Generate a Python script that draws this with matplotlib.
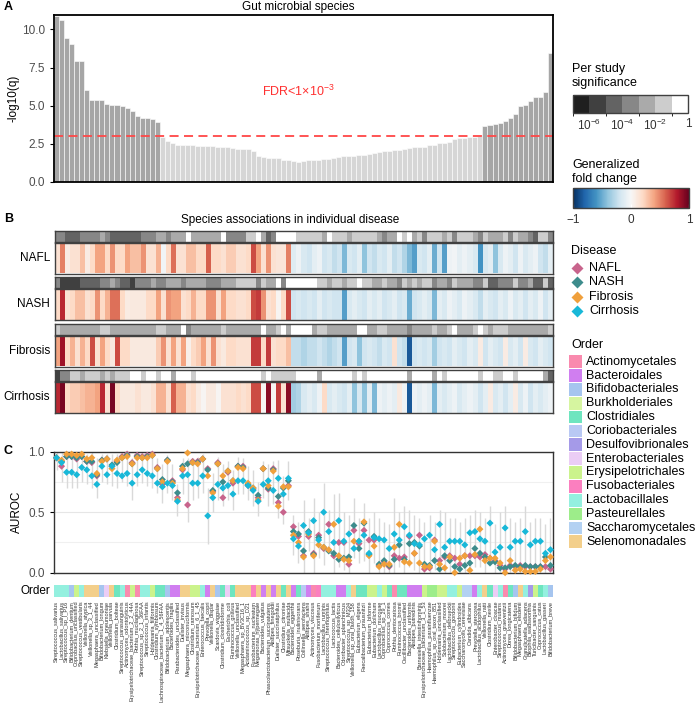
import numpy as np
import matplotlib
matplotlib.use("Agg")
import matplotlib.pyplot as plt
from matplotlib.colors import ListedColormap, BoundaryNorm, Normalize
from matplotlib.patches import Rectangle
import matplotlib.colorbar as mcolorbar

plt.rcParams['font.family'] = ['Liberation Sans', 'DejaVu Sans']
plt.rcParams['mathtext.fontset'] = 'custom'
plt.rcParams['mathtext.rm'] = 'Liberation Sans'
plt.rcParams['mathtext.it'] = 'Liberation Sans'

# ----------------------------------------------------------------------
#  Data
# ----------------------------------------------------------------------
diseases = ["NAFL", "NASH", "Fibrosis", "Cirrhosis"]
disease_colors = ["#c8648c", "#3d8c8c", "#f0a03c", "#18b8d8"]

species = [
    "Streptococcus_salivarius", "Lactobacillus_salivarius", "Streptococcus_sp_I_P16",
    "Bifidobacterium_dentium", "Coprobacillus_unclassified", "Streptococcus_vestibularis",
    "Veillonella_atypica", "Veillonella_sp_3_1_44", "Megasphaera_unclassified",
    "Bifidobacterium_longum", "Klebsiella_pneumoniae", "Veillonella_parvula",
    "Clostridium_bolteae", "Streptococcus_parasanguinis", "Actinomyces_odontolyticus",
    "Erysipelotrichaceae_bacterium_2_2_44A", "Rothia_mucilaginosa", "Streptococcus_sp_2_1_36FAA",
    "Streptococcus_infantis", "Holdemania_filiformis", "Clostridium_symbiosum",
    "Lachnospiraceae_bacterium_1_4_56FAA", "Bifidobacterium_adolescentis", "Bacteroides_fragilis",
    "Parabacteroides_unclassified", "Dialister_invisus", "Megasphaera_micronuciformis",
    "Clostridium_ramosum", "Erysipelotrichaceae_bacterium_6_1_45", "Enterococcus_faecalis",
    "Prevotella_copri", "Veillonella_dispar", "Scardovia_wiggsiae",
    "Clostridium_clostridioforme", "Escherichia_coli", "Ruminococcus_gnavus",
    "Veillonella_unclassified", "Megasphaera_sp_BV3C16_1", "Acidaminococcus_sp_D21",
    "Fusobacterium_nucleatum", "Megamonas_hypermegale", "Bacteroides_vulgatus",
    "Phascolarctobacterium_succinatutens", "Alistipes_finegoldii", "Dialister_succinatiphilus",
    "Clostridium_citroniae", "Mitsuokella_multacida", "Bacteroides_eggerthii",
    "Roseburia_inulinivorans", "Collinsella_aerofaciens", "Alistipes_shahii",
    "Actinomyces_viscosus", "Fusobacterium_mortiferum", "Lactobacillus_ruminis",
    "Streptococcus_thermophilus", "Lactococcus_lactis", "Bacteroides_cellulosilyticus",
    "Odoribacter_splanchnicus", "Streptococcus_sp_M334", "Veillonella_sp_oral_taxon_158",
    "Eubacterium_eligens", "Faecalibacterium_prausnitzii", "Eubacterium_biforme",
    "Eubacterium_dolichum", "Lactobacillus_mucosae", "Coprobacillus_sp_29_1",
    "Coprococcus_comes", "Rothia_dentocariosa", "Ruminococcus_bromii",
    "Oscillibacter_unclassified", "Bacteroides_uniformis", "Alistipes_putredinis",
    "Barnesiella_intestinihominis", "Erysipelotrichaceae_bacterium_3_1_53", "Haemophilus_parainfluenzae",
    "Haemophilus_sp_oral_taxon_851", "Holdemania_unclassified", "Solobacterium_moorei",
    "Lactobacillus_delbrueckii", "Streptococcus_gordonii", "Eubacterium_cylindroides",
    "Saccharomyces_cerevisiae", "Candida_albicans", "Prevotella_stercorea",
    "Lactobacillus_acidophilus", "Veillonella_ratti", "Clostridium_nexile",
    "Enterobacter_cloacae", "Streptococcus_mutans", "Actinomyces_graevenitzii",
    "Dorea_longicatena", "Bifidobacterium_bifidum", "Megasphaera_elsdenii",
    "Granulicatella_adiacens", "Bilophila_wadsworthia", "Turicibacter_sanguinis",
    "Coprococcus_catus", "Lactobacillus_gasseri", "Bifidobacterium_breve",
]

order_names = ["Actinomycetales", "Bacteroidales", "Bifidobacteriales", "Burkholderiales",
               "Clostridiales", "Coriobacteriales", "Desulfovibrionales", "Enterobacteriales",
               "Erysipelotrichales", "Fusobacteriales", "Lactobacillales", "Pasteurellales",
               "Saccharomycetales", "Selenomonadales"]
order_colors = ["#f98aae", "#d07ef0", "#a6c5ef", "#d6f5a0", "#6ee5bf", "#b9c9f4", "#a59ae8",
                "#ebcdf5", "#cbf38c", "#fb7fbf", "#94f0df", "#9ded8a", "#b3d1f2", "#f3cf8b"]

species_order = [
    "Lactobacillales", "Lactobacillales", "Lactobacillales", "Bifidobacteriales", "Erysipelotrichales",
    "Lactobacillales", "Selenomonadales", "Selenomonadales", "Selenomonadales", "Bifidobacteriales",
    "Enterobacteriales", "Selenomonadales", "Clostridiales", "Lactobacillales", "Actinomycetales",
    "Erysipelotrichales", "Actinomycetales", "Lactobacillales", "Lactobacillales", "Erysipelotrichales",
    "Clostridiales", "Clostridiales", "Bifidobacteriales", "Bacteroidales", "Bacteroidales",
    "Selenomonadales", "Selenomonadales", "Erysipelotrichales", "Erysipelotrichales", "Lactobacillales",
    "Bacteroidales", "Selenomonadales", "Bifidobacteriales", "Clostridiales", "Enterobacteriales",
    "Clostridiales", "Selenomonadales", "Selenomonadales", "Selenomonadales", "Fusobacteriales",
    "Selenomonadales", "Bacteroidales", "Selenomonadales", "Bacteroidales", "Selenomonadales",
    "Clostridiales", "Selenomonadales", "Bacteroidales", "Clostridiales", "Coriobacteriales",
    "Bacteroidales", "Actinomycetales", "Fusobacteriales", "Lactobacillales", "Lactobacillales",
    "Lactobacillales", "Bacteroidales", "Bacteroidales", "Lactobacillales", "Selenomonadales",
    "Clostridiales", "Clostridiales", "Erysipelotrichales", "Erysipelotrichales", "Lactobacillales",
    "Erysipelotrichales", "Clostridiales", "Actinomycetales", "Clostridiales", "Clostridiales",
    "Bacteroidales", "Bacteroidales", "Bacteroidales", "Erysipelotrichales", "Pasteurellales",
    "Pasteurellales", "Erysipelotrichales", "Erysipelotrichales", "Lactobacillales", "Lactobacillales",
    "Erysipelotrichales", "Saccharomycetales", "Saccharomycetales", "Bacteroidales", "Lactobacillales",
    "Selenomonadales", "Clostridiales", "Enterobacteriales", "Lactobacillales", "Actinomycetales",
    "Clostridiales", "Bifidobacteriales", "Selenomonadales", "Lactobacillales", "Desulfovibrionales",
    "Erysipelotrichales", "Clostridiales", "Lactobacillales", "Bifidobacteriales",
]

# Panel A: -log10(q) of the meta-analysis
neglog_q = [
    10.87, 10.65, 9.47, 9.06, 7.9, 7.9, 6.0, 5.38, 5.37, 5.37,
    5.08, 5.07, 5.06, 5.0, 4.81, 4.62, 4.31, 4.18, 4.18, 4.14, 3.9,
    2.91, 2.70, 2.53, 2.42, 2.41, 2.40, 2.40, 2.36, 2.35, 2.34,
    2.33, 2.31, 2.28, 2.26, 2.21, 2.18, 2.17, 2.14, 2.00, 1.68,
    1.62, 1.57, 1.55, 1.54, 1.42, 1.40, 1.33, 1.32, 1.33, 1.43,
    1.44, 1.45, 1.46, 1.52, 1.58, 1.64, 1.66, 1.69, 1.72, 1.74,
    1.75, 1.80, 1.86, 1.97, 2.02, 2.04, 2.06, 2.08, 2.12, 2.20,
    2.25, 2.27, 2.29, 2.38, 2.40, 2.52, 2.55, 2.62, 2.78, 2.85,
    2.88, 2.92, 2.93, 2.97,
    3.65, 3.72, 3.79, 3.83, 3.96, 4.16, 4.44, 4.99, 5.01, 5.32,
    5.54, 5.54, 5.87, 8.47,
]
fdr_cut = 3.0

# Panel B: generalized fold change per disease
gfc_nafl = [
    0.15, 0.5, 0.08, 0.15, 0.15, 0.3, 0.08, 0.2, 0.4, 0.4,
    0.2, 0.45, 0.2, 0.2, 0.4, 0.3, 0.3, 0.45, 0.15, 0.15,
    0.35, -0.03, 0.2, 0.55, 0.15, 0.15, 0.3, 0.3, 0.2, 0.2,
    0.6, 0.2, 0.2, 0.15, 0.25, 0.25, 0.15, 0.15, 0.2, 0.65,
    0.4, 0.15, 0.45, 0.15, 0.12, 0.12, 0.5,
    -0.12, -0.05, -0.15, -0.2, -0.1, -0.05, -0.2, -0.15, -0.25, -0.2,
    -0.45, -0.15, -0.2, -0.1, -0.4, -0.2, -0.25, -0.15, -0.2, -0.1,
    -0.25, -0.2, -0.3, -0.45, -0.55, -0.15, -0.2, -0.1, -0.5, -0.2,
    -0.55, -0.05, -0.03, -0.1, -0.05, -0.1, -0.15, -0.6, -0.15, -0.1,
    -0.4, -0.15, -0.05, -0.1, -0.2, -0.05, -0.15, -0.1, -0.05, -0.2,
    -0.25, -0.1,
]
gfc_nash = [
    0.2, 0.75, 0.15, 0.2, 0.3, 0.3, 0.15, 0.2, 0.45, 0.2,
    0.35, 0.55, 0.55, 0.2, 0.08, 0.1, 0.1, 0.1, 0.2, 0.2,
    0.4, 0.15, 0.45, 0.4, 0.4, 0.15, 0.2, 0.35, 0.2, 0.2,
    0.45, 0.45, 0.15, 0.4, 0.2, 0.2, 0.15, 0.15, 0.2, 0.65,
    0.7, 0.45, 0.15, 0.2, 0.02, 0.2, 0.65,
    -0.2, -0.15, -0.2, -0.15, -0.2, -0.1, -0.2, -0.15, -0.2, -0.2,
    -0.55, -0.15, -0.1, -0.15, -0.2, -0.1, -0.15, -0.1, -0.2, -0.15,
    -0.1, -0.2, -0.15, -0.5, -0.2, -0.15, -0.1, -0.15, -0.45, -0.1,
    -0.15, -0.05, -0.1, -0.15, -0.05, -0.1, -0.15, -0.25, -0.1, -0.15,
    -0.2, -0.1, -0.15, -0.05, -0.15, -0.1, -0.2, -0.1, -0.15, -0.05,
    -0.2, -0.1,
]
gfc_fibrosis = [
    0.4, 0.85, 0.2, 0.35, 0.15, 0.35, 0.2, 0.65, 0.15, 0.4,
    0.2, 0.1, 0.65, 0.2, 0.2, 0.1, 0.1, 0.1, 0.1, 0.1,
    0.25, 0.45, 0.15, 0.4, 0.15, 0.4, 0.05, 0.2, 0.25, 0.4,
    0.15, 0.45, 0.15, 0.1, 0.2, 0.2, 0.15, 0.15, 0.15, 0.7,
    0.7, 0.2, 0.7, 0.15, 0.2, 0.2, 0.3,
    -0.25, -0.25, -0.3, -0.25, -0.25, -0.2, -0.25, -0.3, -0.25, -0.2,
    -0.55, -0.2, -0.15, -0.4, -0.2, -0.15, -0.2, -0.25, -0.15, -0.2,
    0.15, -0.2, -0.25, -0.85, -0.2, -0.15, -0.2, -0.15, -0.35, -0.2,
    -0.15, -0.2, -0.1, -0.15, -0.2, -0.1, -0.15, 0.08, -0.2, -0.1,
    -0.15, -0.2, 0.08, -0.15, -0.1, -0.2, 0.08, -0.15, -0.2, -0.1,
    -0.15, -0.2,
]
gfc_cirrhosis = [
    0.75, 0.95, 0.2, 0.25, 0.25, 0.3, 0.35, 0.35, 0.4, 0.75,
    0.15, 0.95, 0.2, 0.1, 0.1, 0.1, 0.15, 0.1, 0.1, 0.15,
    0.35, 0.35, 0.15, 0.6, 0.35, 0.35, 0.15, 0.2, 0.08, 0.02,
    0.1, 0.1, 0.02, 0.15, 0.15, 0.15, 0.2, 0.15, 0.2, 0.65,
    0.65, 0.02, 0.9, 0.02, 0.7, 0.15, 0.9,
    -0.35, -0.3, -0.15, -0.1, -0.15, -0.05, 0.2, -0.15, -0.1, -0.15,
    -0.2, -0.1, -0.4, -0.15, -0.4, -0.1, -0.45, -0.05, -0.1, -0.05,
    -0.1, 0.1, -0.05, -0.85, -0.05, -0.1, -0.05, -0.1, -0.45, -0.1,
    -0.15, -0.1, -0.05, -0.15, -0.1, -0.05, -0.1, -0.2, -0.1, 0.08,
    -0.15, -0.1, -0.2, -0.1, 0.08, -0.15, -0.05, -0.2, -0.1, -0.15,
    -0.1, -0.05,
]

# Panel B: per study significance, log10(p) bin (-7 .. -1)
sig_nafl = [
    -4, -4, -5, -5, -5, -4, -4, -4, -4, -3,
    -4, -5, -5, -5, -5, -5, -5, -4, -4, -4,
    -3, -3, -4, -3, -3, -3, -1, -3, -3, -3,
    -3, -3, -3, -1, -4, -4, -4, -4, -2, -2,
    -1, -3, -5, -4, -1, -1, -1, -1,
    -2, -2, -2, -2, -2, -3, -1, -2, -2, -2,
    -3, -2, -2, -2, -2, -2, -3, -4, -3, -3,
    -1, -2, -1, -3, -2, -4, -2, -2, -2, -3,
    -2, -4, -2, -2, -2,
    -3, -4, -2, -3, -3, -3, -2, -4, -2, -3,
    -3, -4, -5, -2, -2, -4,
]
sig_nash = [
    -4, -6, -6, -6, -6, -5, -5, -5, -5, -4,
    -4, -3, -4, -5, -5, -6, -4, -4, -4, -3,
    -4, -4, -3, -3, -3, -4, -3, -3, -3, -3,
    -4, -4, -4, -3, -3, -3, -2, -2, -2, -2,
    -4, -2, -3, -3, -1, -4, -1, -1, -1, -1,
    -1, -1, -2, -2, -3, -2, -2, -3, -2, -2,
    -1, -2, -2, -3, -3, -2, -3, -3, -4, -2,
    -3, -2, -3, -2, -2, -4, -3, -3, -4, -2,
    -3, -3, -3,
    -4, -4, -2, -5, -5, -4, -4, -4, -2, -4,
    -4, -3, -5, -5, -2, -5,
]
sig_fibrosis = [
    -2, -3, -3, -3, -3, -3, -3, -3, -3, -2,
    -2, -3, -3, -3, -3, -3, -3, -3, -3, -3,
    -2, -2, -3, -3, -3, -1, -4, -3, -3, -3,
    -3, -3, -3, -2, -3, -3, -3, -3, -3, -3,
    -3, -1, -3, -3, -2, -1, -3, -1, -1, -1,
    -1, -3, -2, -2, -3, -3, -3, -3, -3, -3,
    -1, -1, -3, -3, -2, -2, -3, -3, -3, -3,
    -4, -3, -3, -3, -3, -2, -3, -3, -2, -1,
    -3, -3, -3,
    -2, -1, -2, -3, -2, -2, -2, -3, -3, -3,
    -3, -3, -3, -3, -3, -2,
]
sig_cirrhosis = [
    -6, -4, -4, -2, -2, -3, -2, -2, -2, -3,
    -2, -3, -2, -2, -2, -1, -1, -2, -1, -1,
    -2, -1, -1, -3, -1, -1, -1, -2, -1, -1,
    -1, -1, -1, -1, -1, -1, -1, -1, -1, -1,
    -1, -2, -1, -2, -2, -2, -2, -2, -1, -1,
    -1, -1, -3, -1, -1, -1, -1, -1, -1, -2,
    -1, -2, -1, -1, -1, -1, -1, -1, -1, -1,
    -3, -1, -1, -1, -1, -3, -1, -2, -1, -1,
    -1, -1, -1,
    -1, -2, -1, -1, -2, -2, -1, -1, -2, -1,
    -1, -1, -1, -1, -3, -5,
]

# Panel C: AUROC per disease
auroc_nafl = [
    0.95, 0.88, 0.96, 0.96, 0.94, 0.96, 0.92, 0.91, 0.80, 0.93,
    0.94, 0.88, 0.92, 0.96, 0.98, 0.91, 0.97, 0.96, 0.97, 0.98,
    0.87, 0.73, 0.93, 0.76, 0.62, 0.85, 0.56, 0.92, 0.92, 0.94,
    0.86, 0.67, 0.91, 0.62, 0.83, 0.74, 0.88, 0.88, 0.72, 0.69,
    0.62, 0.86, 0.69, 0.86, 0.58, 0.50, 0.72,
    0.38, 0.30, 0.14, 0.30, 0.16, 0.31, 0.20, 0.40, 0.14, 0.25,
    0.25, 0.07, 0.35, 0.24, 0.35, 0.27, 0.27, 0.06, 0.09, 0.05,
    0.14, 0.12, 0.13, 0.30, 0.16, 0.31, 0.03, 0.04, 0.27, 0.10,
    0.13, 0.14, 0.12, 0.07, 0.14, 0.14, 0.14, 0.13, 0.15, 0.12,
    0.10, 0.06, 0.03, 0.06, 0.05, 0.06, 0.05, 0.05, 0.05, 0.05,
    0.05, 0.03,
]
auroc_nash = [
    0.95, 0.92, 0.96, 0.96, 0.95, 0.96, 0.92, 0.92, 0.81, 0.93,
    0.94, 0.89, 0.91, 0.95, 0.97, 0.90, 0.96, 0.95, 0.96, 0.97,
    0.86, 0.77, 0.93, 0.75, 0.66, 0.88, 0.90, 0.91, 0.91, 0.94,
    0.85, 0.68, 0.90, 0.75, 0.84, 0.76, 0.88, 0.87, 0.73, 0.70,
    0.64, 0.86, 0.70, 0.85, 0.63, 0.70, 0.76,
    0.34, 0.32, 0.18, 0.34, 0.15, 0.29, 0.21, 0.18, 0.16, 0.11,
    0.12, 0.13, 0.39, 0.20, 0.41, 0.15, 0.30, 0.07, 0.10, 0.06,
    0.11, 0.23, 0.11, 0.24, 0.25, 0.22, 0.07, 0.06, 0.10, 0.03,
    0.14, 0.10, 0.05, 0.03, 0.06, 0.08, 0.20, 0.16, 0.13, 0.08,
    0.09, 0.04, 0.04, 0.05, 0.06, 0.05, 0.06, 0.05, 0.05, 0.05,
    0.13, 0.06,
]
auroc_fibrosis = [
    0.95, 0.93, 0.98, 0.98, 0.97, 0.98, 0.94, 0.95, 0.82, 0.92,
    0.94, 0.86, 0.93, 0.95, 0.96, 0.90, 0.95, 0.95, 0.95, 0.97,
    0.86, 0.75, 0.92, 0.74, 0.60, 0.86, 0.99, 0.91, 0.90, 0.94,
    0.80, 0.66, 0.90, 0.80, 0.84, 0.76, 0.87, 0.86, 0.74, 0.70,
    0.60, 0.86, 0.72, 0.84, 0.55, 0.71, 0.71,
    0.31, 0.25, 0.13, 0.32, 0.14, 0.23, 0.21, 0.19, 0.40, 0.14,
    0.11, 0.10, 0.26, 0.26, 0.42, 0.14, 0.22, 0.05, 0.07, 0.07,
    0.21, 0.40, 0.09, 0.08, 0.16, 0.08, 0.05, 0.05, 0.26, 0.07,
    0.04, 0.13, 0.00, 0.12, 0.14, 0.02, 0.15, 0.36, 0.10, 0.12,
    0.12, 0.08, 0.00, 0.10, 0.02, 0.03, 0.01, 0.01, 0.01, 0.03,
    0.10, 0.13,
]
auroc_cirrhosis = [
    0.95, 0.91, 0.83, 0.83, 0.81, 0.87, 0.85, 0.80, 0.73, 0.88,
    0.81, 0.88, 0.82, 0.80, 0.82, 0.74, 0.81, 0.85, 0.82, 0.80,
    0.74, 0.71, 0.74, 0.72, 0.59, 0.80, 0.81, 0.74, 0.74, 0.80,
    0.47, 0.62, 0.73, 0.70, 0.72, 0.65, 0.76, 0.76, 0.72, 0.68,
    0.59, 0.73, 0.76, 0.68, 0.78, 0.65, 0.78,
    0.28, 0.22, 0.39, 0.33, 0.43, 0.27, 0.50, 0.34, 0.25, 0.43,
    0.26, 0.32, 0.20, 0.26, 0.31, 0.16, 0.29, 0.28, 0.27, 0.20,
    0.32, 0.27, 0.38, 0.31, 0.24, 0.23, 0.28, 0.31, 0.19, 0.40,
    0.21, 0.26, 0.26, 0.26, 0.23, 0.33, 0.34, 0.28, 0.26, 0.41,
    0.17, 0.21, 0.37, 0.21, 0.26, 0.26, 0.34, 0.23, 0.26, 0.26,
    0.16, 0.19,
]
ci_low = [
    0.85, 0.75, 0.70, 0.70, 0.70, 0.75, 0.73, 0.70, 0.62, 0.75,
    0.73, 0.72, 0.70, 0.75, 0.72, 0.60, 0.72, 0.74, 0.72, 0.70,
    0.66, 0.58, 0.66, 0.60, 0.47, 0.65, 0.42, 0.60, 0.62, 0.66,
    0.24, 0.50, 0.60, 0.55, 0.60, 0.52, 0.65, 0.65, 0.60, 0.55,
    0.47, 0.62, 0.55, 0.57, 0.45, 0.40, 0.60,
    0.15, 0.08, 0.00, 0.18, 0.00, 0.12, 0.06, 0.18, 0.00, 0.05,
    0.02, 0.00, 0.12, 0.08, 0.10, 0.00, 0.08, 0.00, 0.00, 0.00,
    0.00, 0.05, 0.00, 0.05, 0.02, 0.00, 0.00, 0.00, 0.02, 0.00,
    0.00, 0.00, 0.00, 0.00, 0.00, 0.00, 0.05, 0.05, 0.00, 0.08,
    0.00, 0.00, 0.05, 0.00, 0.00, 0.00, 0.05, 0.00, 0.00, 0.00,
    0.00, 0.00,
]
ci_high = [
    1.0, 1.0, 1.0, 1.0, 1.0, 1.0, 0.98, 1.0, 0.95, 0.98,
    0.98, 0.98, 0.98, 1.0, 1.0, 0.95, 1.0, 1.0, 1.0, 1.0,
    0.95, 0.90, 0.97, 0.90, 0.73, 0.95, 0.95, 0.95, 0.96, 0.98,
    0.70, 0.82, 0.96, 0.90, 0.92, 0.85, 0.96, 0.95, 0.88, 0.85,
    0.75, 0.92, 0.90, 0.92, 0.93, 0.80, 0.92,
    0.48, 0.42, 0.60, 0.45, 0.62, 0.50, 0.74, 0.52, 0.65, 0.66,
    0.50, 0.48, 0.62, 0.45, 0.58, 0.45, 0.50, 0.45, 0.42, 0.40,
    0.62, 0.50, 0.55, 0.52, 0.48, 0.45, 0.42, 0.48, 0.42, 0.52,
    0.50, 0.45, 0.45, 0.42, 0.45, 0.48, 0.52, 0.50, 0.45, 0.55,
    0.40, 0.50, 0.55, 0.45, 0.42, 0.45, 0.55, 0.42, 0.45, 0.45,
    0.40, 0.45,
]

gfc_rows = [gfc_nafl, gfc_nash, gfc_fibrosis, gfc_cirrhosis]
sig_rows = [sig_nafl, sig_nash, sig_fibrosis, sig_cirrhosis]
auroc_rows = [auroc_nafl, auroc_nash, auroc_fibrosis, auroc_cirrhosis]

sig_grays = ["#1f1f1f", "#404040", "#636363", "#878787", "#aaaaaa", "#cdcdcd", "#ffffff"]
sig_bounds = [-7, -6, -5, -4, -3, -2, -1, 0]

# ----------------------------------------------------------------------
#  Layout helpers (pixel boxes, origin top-left)
# ----------------------------------------------------------------------
W, H = 698, 707
n = len(species)
x = np.arange(n)
XL, XR = 54, 553


def box(x0, y0, x1, y1):
    return [x0 / W, 1 - y1 / H, (x1 - x0) / W, (y1 - y0) / H]


def ftext(px, py, s, **kw):
    fig.text(px / W, 1 - py / H, s, **kw)


fig = plt.figure(figsize=(W / 100, H / 100), dpi=100)

# ======================================================================
#  A: meta-analysis significance
# ======================================================================
axA = fig.add_axes(box(XL, 15, XR, 181.7))
bar_cols = ["#a6a6a6" if v > fdr_cut else "#d6d6d6" for v in neglog_q]
axA.bar(x, neglog_q, width=1.0, color=bar_cols, edgecolor="white", linewidth=0.4)
axA.axhline(fdr_cut, color="#ff4747", ls=(0, (5, 3)), lw=1.3)
axA.set_xlim(-0.5, n - 0.5)
axA.set_ylim(0, 10.95)
axA.set_xticks([])
axA.set_yticks([0, 2.5, 5, 7.5, 10])
axA.set_yticklabels(["0.0", "2.5", "5.0", "7.5", "10.0"])
axA.tick_params(axis="y", labelsize=8.5, labelcolor="#4d4d4d", length=3, width=0.8)
axA.set_ylabel("-log10(q)", fontsize=8.5, labelpad=2)
for sp in axA.spines.values():
    sp.set_color("black")
    sp.set_linewidth(1.3)
axA.text(0.49, 5.9, r"FDR<1×10$^{-3}$", color="#ff3030", fontsize=9,
         ha="center", va="center", transform=axA.get_yaxis_transform())
ftext(298, 7, "Gut microbial species", fontsize=8.5, ha="center", va="center")
ftext(4, 7, "A", fontsize=9, fontweight="bold", ha="left", va="center")

# ======================================================================
#  B: per-disease heatmaps
# ======================================================================
ftext(4, 219, "B", fontsize=9, fontweight="bold", ha="left", va="center")
ftext(290, 220, "Species associations in individual disease", fontsize=8.5,
      ha="center", va="center")

sig_cmap = ListedColormap(sig_grays)
sig_norm = BoundaryNorm(sig_bounds, sig_cmap.N)
for k, name in enumerate(diseases):
    top = 230.5 + 46.5 * k
    axS = fig.add_axes(box(XL + 1, top, XR, top + 11))
    axS.imshow(np.array([sig_rows[k]]) + 0.5, cmap=sig_cmap, norm=sig_norm,
               aspect="auto", interpolation="nearest", extent=(-0.5, n - 0.5, 0, 1))
    axH = fig.add_axes(box(XL + 1, top + 12, XR, top + 43))
    axH.imshow(np.array([gfc_rows[k]]), cmap="RdBu_r", vmin=-1, vmax=1,
               aspect="auto", interpolation="nearest", extent=(-0.5, n - 0.5, 0, 1))
    for a in (axS, axH):
        a.set_xticks([])
        a.set_yticks([])
        for sp in a.spines.values():
            sp.set_color("#404040")
            sp.set_linewidth(1.0)
    ftext(50, top + 27.5, name, fontsize=8.5, ha="right", va="center")

# ======================================================================
#  C: AUROC
# ======================================================================
ftext(4, 451, "C", fontsize=9, fontweight="bold", ha="left", va="center")
axC = fig.add_axes(box(XL, 451.7, XR, 572.7))
axC.set_xlim(-0.5, n - 0.5)
axC.set_ylim(0, 1)
axC.set_yticks([0, 0.5, 1.0])
axC.set_yticklabels(["0.0", "0.5", "1.0"])
axC.set_yticks([0.25, 0.75], minor=True)
axC.grid(which="major", axis="y", color="#e6e6e6", lw=0.8)
axC.grid(which="minor", axis="y", color="#f0f0f0", lw=0.8)
axC.set_axisbelow(True)
axC.set_xticks([])
axC.tick_params(axis="y", which="major", labelsize=8.5, labelcolor="#4d4d4d", length=3, width=0.8)
axC.tick_params(axis="y", which="minor", length=0)
axC.set_ylabel("AUROC", fontsize=8.5, labelpad=4)
for sp in axC.spines.values():
    sp.set_color("#333333")
    sp.set_linewidth(1.0)
axC.vlines(x, ci_low, ci_high, color="#d9d9d9", lw=1.0, zorder=1)
for k, name in enumerate(diseases):
    axC.scatter(x, auroc_rows[k], marker="D", s=13, color=disease_colors[k],
                edgecolors="none", zorder=3 + k, clip_on=False)

# order colour strip + species labels
axO = fig.add_axes(box(XL, 585, XR, 596.7))
ocol = {o: c for o, c in zip(order_names, order_colors)}
axO.bar(x, np.ones(n), width=1.0, color=[ocol[o] for o in species_order], linewidth=0)
axO.set_xlim(-0.5, n - 0.5)
axO.set_ylim(0, 1)
axO.set_yticks([])
axO.set_xticks(x)
axO.set_xticklabels(species, rotation=90, fontsize=4.0, color="#333333")
axO.tick_params(axis="x", length=0, pad=3)
for sp in axO.spines.values():
    sp.set_visible(False)
ftext(50, 591, "Order", fontsize=8.5, ha="right", va="center")

# ======================================================================
#  Legends
# ======================================================================
ftext(572, 69, "Per study", fontsize=9, ha="left", va="center")
ftext(572, 83, "significance", fontsize=9, ha="left", va="center")
cax1 = fig.add_axes(box(573, 95, 688, 112.5))
cb1 = mcolorbar.ColorbarBase(cax1, cmap=sig_cmap, norm=sig_norm, orientation="horizontal",
                             ticks=[-6, -4, -2, 0])
cb1.set_ticklabels([r"10$^{-6}$", r"10$^{-4}$", r"10$^{-2}$", "1"])
cax1.tick_params(length=0, labelsize=8.5, pad=4, labelcolor="#333333")
cb1.outline.set_edgecolor("#404040")
cb1.outline.set_linewidth(1.0)

ftext(572, 165, "Generalized", fontsize=9, ha="left", va="center")
ftext(572, 179, "fold change", fontsize=9, ha="left", va="center")
cax2 = fig.add_axes(box(573, 188, 689, 208))
cb2 = mcolorbar.ColorbarBase(cax2, cmap=plt.get_cmap("RdBu_r"), norm=Normalize(-1, 1),
                             orientation="horizontal", ticks=[-1, 0, 1])
cb2.set_ticklabels(["\u22121", "0", "1"])
cax2.tick_params(length=3, direction="in", color="white", labelsize=8.5, pad=4,
                 labelcolor="#333333")
cb2.outline.set_edgecolor("#404040")
cb2.outline.set_linewidth(1.0)

leg = fig.add_axes([0, 0, 1, 1], zorder=-1)
leg.set_xlim(0, W)
leg.set_ylim(H, 0)
leg.axis("off")

ftext(571, 251, "Disease", fontsize=9, ha="left", va="center")
for k, name in enumerate(diseases):
    yy = 268 + 14.3 * k
    leg.plot([577], [yy], marker="D", ms=6.5, color=disease_colors[k], mec="none")
    leg.text(589, yy, name, fontsize=9, ha="left", va="center")

ftext(571, 345, "Order", fontsize=9, ha="left", va="center")
for k, name in enumerate(order_names):
    yy = 361.7 + 13.85 * k
    leg.add_patch(Rectangle((569.3, yy - 6.3), 12.4, 12.6, facecolor=order_colors[k],
                            edgecolor="none"))
    leg.text(586, yy, name, fontsize=9, ha="left", va="center")

fig.savefig("out.png", dpi=100)
